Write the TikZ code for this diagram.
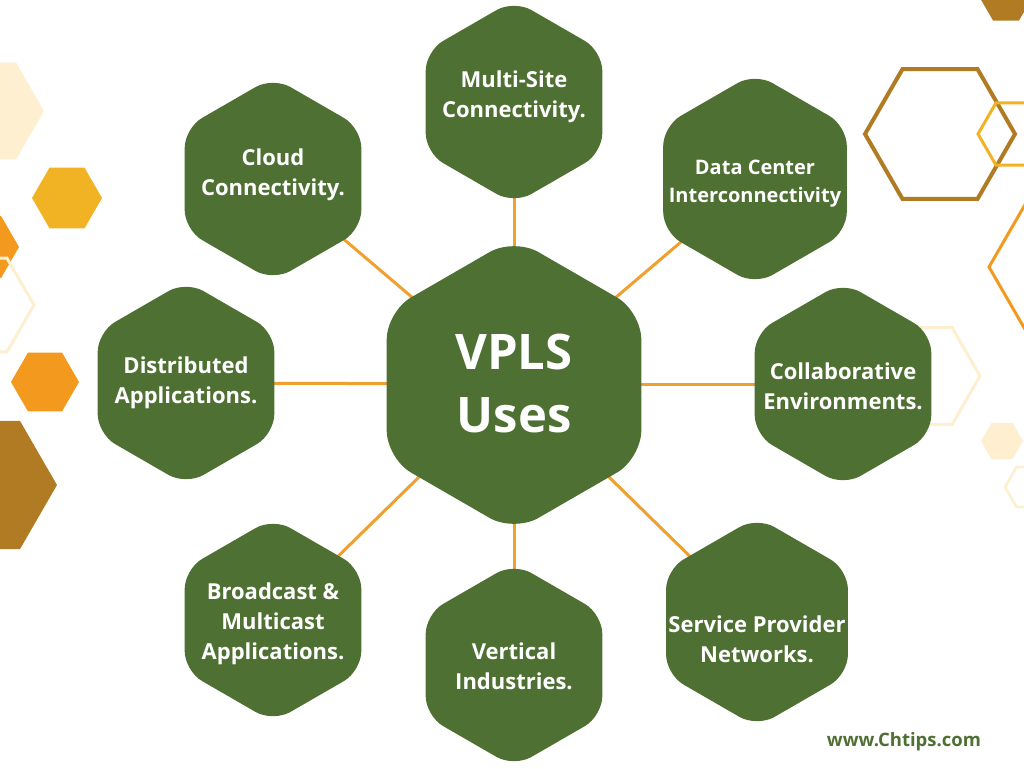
\documentclass[tikz,border=0pt]{standalone}
\usepackage{fontspec}
\setmainfont{Open Sans}
\usetikzlibrary{calc}
\definecolor{hgreen}{RGB}{78,112,50}
\definecolor{lineorange}{RGB}{240,160,48}
\definecolor{cream}{RGB}{253,239,208}
\definecolor{dyellow}{RGB}{241,178,36}
\definecolor{dorange}{RGB}{243,154,30}
\definecolor{dbrown}{RGB}{176,123,34}
% pointy-top hexagon: cx, cy, R, corner, style
\newcommand{\phex}[5]{\path[#5,shift={(#1,#2)},rounded corners=#4] (90:#3) -- (150:#3) -- (210:#3) -- (270:#3) -- (330:#3) -- (30:#3) -- cycle;}
% flat-top hexagon: cx, cy, R, style
\newcommand{\fhex}[4]{\path[#4,shift={(#1,#2)}] (0:#3) -- (60:#3) -- (120:#3) -- (180:#3) -- (240:#3) -- (300:#3) -- cycle;}
\tikzset{
  lbl/.style={text=white, align=center, font=\bfseries\fontsize{22}{30}\selectfont, inner sep=0pt},
  bigl/.style={text=white, align=center, font=\bfseries\fontsize{49}{63}\selectfont, inner sep=0pt},
  conn/.style={draw=lineorange, line width=3pt},
  ghex/.style={fill=hgreen},
}
\begin{document}
\begin{tikzpicture}[x=1pt,y=-1pt]
\useasboundingbox[fill=white] (0,0) rectangle (1024,768);
% decorative hexagons left
\fhex{-12}{111}{56}{fill=cream}
\fhex{67}{198}{35}{fill=dyellow}
\fhex{-17}{247}{36}{fill=dorange}
\fhex{-20}{305}{54}{draw=cream,line width=3pt}
\fhex{45}{382}{34}{fill=dorange}
\fhex{-17}{485}{74}{fill=dbrown}
% decorative hexagons right
\fhex{1006}{-2}{26}{fill=dbrown}
\fhex{940}{134}{75}{draw=dbrown,line width=4pt}
\fhex{1014}{134}{36}{draw=dyellow,line width=3pt}
\fhex{1079}{267}{90}{draw=dorange,line width=3pt}
\fhex{924}{376}{56}{draw=cream,line width=3pt}
\fhex{1002}{441}{21}{fill=cream}
\fhex{1028}{487}{23}{draw=cream,line width=2.5pt}
% coordinates of hexagon centres
\coordinate (c) at (514,384);
\coordinate (hms) at (514,102);
\coordinate (hcl) at (273,179);
\coordinate (hdc) at (755,179);
\coordinate (hdi) at (186,383);
\coordinate (hco) at (843,384);
\coordinate (hbr) at (273,620);
\coordinate (hve) at (514,665);
\coordinate (hsp) at (757,622);
% connectors
\foreach \t in {hms,hcl,hdc,hdi,hco,hbr,hve,hsp} \draw[conn] (c) -- (\t);
% green hexagons
\phex{514}{102}{102}{20}{ghex}
\phex{273}{179}{102}{20}{ghex}
\phex{755}{179}{106}{20}{ghex}
\phex{186}{383}{102}{20}{ghex}
\phex{843}{384}{102}{20}{ghex}
\phex{273}{620}{102}{20}{ghex}
\phex{514}{665}{102}{20}{ghex}
\phex{757}{622}{105}{20}{ghex}
\phex{514}{385}{147}{28}{ghex}
% labels
\node[bigl] (vpls) at (514,383) {VPLS\\Uses};
\node[lbl] (ms) at (514,97) {Multi-Site\\Connectivity.};
\node[lbl] (cl) at (273,175) {Cloud\\Connectivity.};
\node[lbl, font=\bfseries\fontsize{20}{28}\selectfont] (dc) at (755,184) {Data Center\\Interconnectivity};
\node[lbl] (di) at (186,383) {Distributed\\Applications.};
\node[lbl] (co) at (843,386) {Collaborative\\Environments.};
\node[lbl] (br) at (273,624) {Broadcast \&\\Multicast\\Applications.};
\node[lbl] (ve) at (514,666) {Vertical\\Industries.};
\node[lbl] (sp) at (757,639) {Service Provider\\Networks.};
\node[text=hgreen, font=\bfseries\fontsize{18.5}{20}\selectfont, inner sep=0pt] (web) at (904,742) {www.Chtips.com};
\end{tikzpicture}
\end{document}
